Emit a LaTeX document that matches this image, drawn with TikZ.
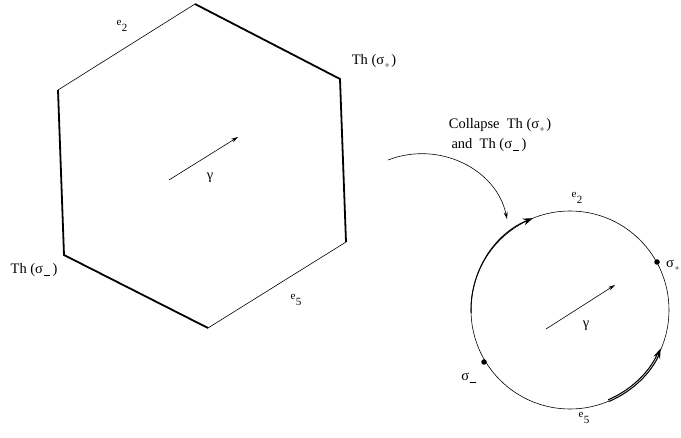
\documentclass[tikz,border=0pt]{standalone}
\usepackage{fontspec}
\setmainfont{Liberation Serif}
\usetikzlibrary{arrows.meta}
\newcommand{\subplus}{\kern0.5pt\raisebox{-4pt}{\fontsize{9}{9}\selectfont +}\kern1.5pt}
\newcommand{\subminus}{\kern0.5pt\raisebox{-2.5pt}{\rule{6.5pt}{0.7pt}}\kern2.5pt}
\newcommand{\esub}[1]{e\kern0.5pt\raisebox{-6pt}{#1}}
\tikzset{
  thin edge/.style={line width=0.6pt},
  thick edge/.style={line width=1.8pt},
  lbl/.style={font=\fontsize{14.5}{16}\selectfont, inner sep=0pt},
  elbl/.style={font=\fontsize{11}{12}\selectfont, inner sep=0pt},
  arr/.style={line width=0.6pt, -{Stealth[length=7pt,width=4pt]}},
  dot/.style={circle, fill=black, inner sep=0pt, minimum size=5.5pt},
}
\begin{document}
\begin{tikzpicture}[x=1pt,y=-1pt]
\useasboundingbox (0,0) rectangle (681,438);
% hexagon vertices
\coordinate (T) at (195,4);
\coordinate (TR) at (340,79);
\coordinate (BR) at (346,242);
\coordinate (B) at (208,328);
\coordinate (BL) at (64,255);
\coordinate (TL) at (58,90);
\draw[thin edge] (TL) -- (T);
\draw[thick edge, line join=miter] (T) -- (TR) -- (BR);
\draw[thin edge] (BR) -- (B);
\draw[thick edge, line join=miter] (B) -- (BL) -- (TL);
\node[elbl] (e2a) at (122,26) {\esub{2}};
\node[lbl] (thp) at (374,61) {Th (σ\subplus)};
\node[lbl] (thm) at (34,270) {Th (σ\subminus)};
\node[elbl] (e5a) at (296,300) {\esub{5}};
\coordinate (g1s) at (169,180);
\coordinate (g1e) at (238,137);
\draw[arr] (g1s) -- (g1e);
\node[lbl] (g1) at (210,178) {γ};
% collapse arrow
\node[lbl] (c1) at (500,125) {Collapse\ \ Th (σ\subplus)};
\node[lbl] (c2) at (489,145) {and\ \ Th (σ\subminus)};
\coordinate (cs) at (388,160);
\coordinate (ce) at (507,219);
\draw[arr] (cs) .. controls (440,140) and (497,170) .. (ce);
% circle
\coordinate (O) at (570,310);
\draw[thin edge] (O) circle (99);
\node[dot] (sp) at (657,262) {};
\node[dot] (sm) at (484,362) {};
\node[lbl, anchor=west] (spl) at (666,266) {σ\subplus};
\node[lbl] (sml) at (470,378) {σ\subminus};
\node[elbl] (e2b) at (577,198) {\esub{2}};
\node[elbl] (e5b) at (584,418) {\esub{5}};
% arcs with arrows on the circle
\draw[line width=1.0pt, -{Stealth[length=10pt,width=7pt]}] ([shift={(178:99)}]O) arc[start angle=178, end angle=248, radius=99];
\draw[line width=1.2pt, double distance=0.5pt, -{Stealth[length=10pt,width=7pt]}] ([shift={(67:98.5)}]O) arc[start angle=67, end angle=23, radius=98.5];
\coordinate (g2s) at (546,329);
\coordinate (g2e) at (615,285);
\draw[arr] (g2s) -- (g2e);
\node[lbl] (g2) at (586,326) {γ};
\end{tikzpicture}
\end{document}
